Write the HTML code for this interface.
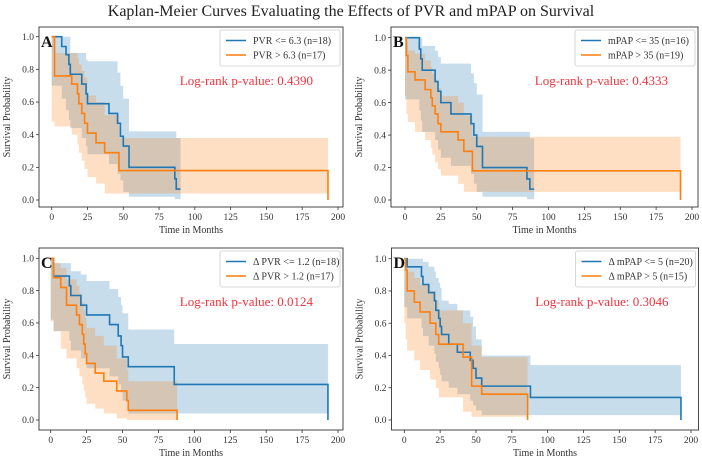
<!DOCTYPE html>
<html><head><meta charset="utf-8"><style>
body{margin:0;background:#fff;}
svg{display:block;font-family:"Liberation Serif",serif;}
</style></head><body>
<svg id="fig" width="702" height="461" viewBox="0 0 702 461">
<text x="351" y="16" text-anchor="middle" font-size="16" fill="#222">Kaplan-Meier Curves Evaluating the Effects of PVR and mPAP on Survival</text>
</svg>
<script>
const xTicks=[0,25,50,75,100,125,150,175,200];
const yTicks=[0,0.2,0.4,0.6,0.8,1.0];
const panelLabels=["A","B","C","D"];
const legendLabels=[["PVR <= 6.3 (n=18)","PVR > 6.3 (n=17)"],["mPAP <= 35 (n=16)","mPAP > 35 (n=19)"],["Δ PVR <= 1.2 (n=18)","Δ PVR > 1.2 (n=17)"],["Δ mPAP <= 5 (n=20)","Δ mPAP > 5 (n=15)"]];
const pValues=["0.4390","0.4333","0.0124","0.3046"];
// Panel A
const aBlueT=[0,7,10,12,13,21,24,25,40,46,48,50,54,86,87,90];
const aBlueS=[1,0.94,0.89,0.83,0.77,0.71,0.65,0.59,0.53,0.47,0.39,0.33,0.20,0.13,0.067,0.067];
const aBlueU=[1,1,1,1,0.9,0.9,0.86,0.85,0.85,0.78,0.7,0.62,0.42,0.42,0.38,0.38];
const aBlueL=[1,0.7,0.62,0.55,0.49,0.44,0.38,0.33,0.28,0.22,0.16,0.12,0.05,0.02,0.005,0.005];
const aOrT=[0,2,14,18,19,21,23,25,31,37,47,193];
const aOrS=[1,0.76,0.71,0.65,0.59,0.53,0.47,0.41,0.35,0.29,0.18,0.18];
const aOrU=[1,0.9,0.9,0.87,0.83,0.79,0.75,0.64,0.6,0.52,0.38,0.38];
const aOrL=[1,0.48,0.45,0.4,0.34,0.29,0.24,0.19,0.14,0.10,0.04,0.04];
// Panel B
const bBlueT=[0,10,11,12,21,23,25,32,46,48,50,54,85,87,90];
const bBlueS=[1,0.93,0.87,0.8,0.73,0.67,0.6,0.53,0.47,0.4,0.33,0.2,0.13,0.067,0.067];
const bBlueU=[1,1,1,0.95,0.92,0.88,0.84,0.84,0.78,0.72,0.65,0.42,0.42,0.38,0.38];
const bBlueL=[1,0.62,0.55,0.49,0.42,0.37,0.31,0.26,0.21,0.16,0.1,0.05,0.02,0.005,0.005];
const bOrT=[0,1,2,7,14,18,19,21,23,25,37,41,47,192];
const bOrS=[1,0.89,0.79,0.74,0.68,0.63,0.58,0.53,0.47,0.42,0.37,0.30,0.18,0.18];
const bOrU=[1,0.97,0.92,0.9,0.86,0.82,0.78,0.74,0.69,0.64,0.6,0.52,0.39,0.39];
const bOrL=[1,0.64,0.53,0.48,0.42,0.37,0.32,0.28,0.23,0.19,0.15,0.1,0.05,0.05];
// Panel C
const cBlueT=[0,2,13,14,21,25,41,47,49,50,54,86,193];
const cBlueS=[1,0.89,0.83,0.77,0.71,0.65,0.59,0.52,0.46,0.39,0.33,0.22,0.22];
const cBlueU=[1,0.97,0.97,0.92,0.9,0.86,0.81,0.76,0.71,0.66,0.56,0.47,0.47];
const cBlueL=[1,0.62,0.55,0.49,0.43,0.38,0.32,0.27,0.22,0.17,0.12,0.04,0.04];
const cOrT=[0,2,7,11,18,20,22,23,24,25,31,37,46,53,54,88];
const cOrS=[1,0.88,0.82,0.71,0.65,0.59,0.53,0.47,0.41,0.35,0.29,0.24,0.18,0.12,0.06,0.06];
const cOrU=[1,0.97,0.94,0.87,0.83,0.78,0.73,0.68,0.63,0.57,0.52,0.46,0.38,0.31,0.24,0.24];
const cOrL=[1,0.61,0.55,0.44,0.38,0.32,0.27,0.22,0.18,0.14,0.1,0.07,0.04,0.01,0,0];
// Panel D
const dBlueT=[0,2,12,13,17,21,22,24,25,26,31,37,46,48,50,54,88,193];
const dBlueS=[1,0.95,0.89,0.84,0.79,0.74,0.68,0.63,0.58,0.53,0.47,0.42,0.37,0.32,0.26,0.21,0.14,0.14];
const dBlueU=[1,1,1,0.98,0.95,0.92,0.88,0.85,0.82,0.74,0.72,0.68,0.64,0.58,0.5,0.4,0.34,0.34];
const dBlueL=[1,0.7,0.63,0.57,0.52,0.46,0.41,0.36,0.32,0.28,0.24,0.2,0.16,0.12,0.09,0.06,0.03,0.03];
const dOrT=[0,1,2,7,11,18,22,24,41,47,54,86];
const dOrS=[1,0.93,0.8,0.73,0.67,0.6,0.53,0.47,0.39,0.21,0.16,0.16];
const dOrU=[1,1,0.92,0.88,0.84,0.8,0.74,0.68,0.6,0.46,0.39,0.39];
const dOrL=[1,0.6,0.5,0.43,0.37,0.31,0.25,0.2,0.14,0.05,0.02,0.02];

const panels=[
 {x0:51.7,x1:338,y0:200,y1:36.7,fl:39,fr:343,ft:27,fb:207,s:[[aBlueT,aBlueS,aBlueU,aBlueL],[aOrT,aOrS,aOrU,aOrL]]},
 {x0:405,x1:692,y0:200,y1:37.7,fl:391,fr:698,ft:27,fb:207,s:[[bBlueT,bBlueS,bBlueU,bBlueL],[bOrT,bOrS,bOrU,bOrL]]},
 {x0:50.7,x1:338,y0:420,y1:258.3,fl:39,fr:343,ft:248,fb:430,s:[[cBlueT,cBlueS,cBlueU,cBlueL],[cOrT,cOrS,cOrU,cOrL]]},
 {x0:404.3,x1:691,y0:420,y1:258.7,fl:391.5,fr:698.5,ft:248,fb:430,s:[[dBlueT,dBlueS,dBlueU,dBlueL],[dOrT,dOrS,dOrU,dOrL]]}
];
const colors=["#1f77b4","#ff7f0e"];
const NS="http://www.w3.org/2000/svg";
const svg=document.getElementById('fig');
function mk(tag,attrs,parent){const e=document.createElementNS(NS,tag);for(const k in attrs)e.setAttribute(k,attrs[k]);(parent||svg).appendChild(e);return e;}
function stepPath(ts,vs,X,Y){let d="M"+X(ts[0])+","+Y(vs[0]);for(let i=1;i<ts.length;i++){d+=" H"+X(ts[i])+" V"+Y(vs[i]);}return d;}
function bandPath(ts,us,ls,X,Y){let d="M"+X(ts[0])+","+Y(us[0]);for(let i=1;i<ts.length;i++){d+=" H"+X(ts[i])+" V"+Y(us[i]);}
 for(let i=ts.length-1;i>=1;i--){d+=" V"+Y(ls[i])+" H"+X(ts[i-1]);}d+=" V"+Y(ls[0])+" Z";return d;}
panels.forEach((p,pi)=>{
 const X=v=>p.x0+(p.x1-p.x0)*v/200, Y=v=>p.y0+(p.y1-p.y0)*v;
 const g=mk('g',{});
 
 
 p.s.forEach((s,si)=>{
  const b=mk('path',{d:bandPath(s[0],s[2],s[3],X,Y),fill:colors[si],'fill-opacity':0.25,stroke:'none'},g);
  
  
 });
 p.s.forEach((s,si)=>{
  let d=stepPath(s[0],s[1],X,Y);
  if(!(si==0&&pi<2)) d+=" V"+Y(0);
  const l=mk('path',{d:d,fill:'none',stroke:colors[si],'stroke-width':1.6},g);
  
  
 });
 const fr=mk('rect',{x:p.fl,y:p.ft,width:p.fr-p.fl,height:p.fb-p.ft,fill:'none',stroke:'#333','stroke-width':0.9},g);
 
 
 xTicks.forEach(t=>{
  mk('line',{x1:X(t),x2:X(t),y1:p.fb,y2:p.fb+3,stroke:'#333','stroke-width':0.8},g);
  const tx=mk('text',{x:X(t),y:p.fb+13,'text-anchor':'middle','font-size':9.5,fill:'#333'},g);
  tx.textContent=t;
  
  
 });
 yTicks.forEach(t=>{
  mk('line',{x1:p.fl-3,x2:p.fl,y1:Y(t),y2:Y(t),stroke:'#333','stroke-width':0.8},g);
  const tx=mk('text',{x:p.fl-5,y:Y(t)+3.2,'text-anchor':'end','font-size':9.5,fill:'#333'},g);
  tx.textContent=t.toFixed(1);
  
  
 });
 const yl=mk('text',{x:0,y:0,transform:`translate(${p.fl-29},${(p.ft+p.fb)/2}) rotate(-90)`,'text-anchor':'middle','font-size':10,fill:'#333'},g);
 yl.textContent='Survival Probability';
 
 
 const xl=mk('text',{x:(p.fl+p.fr)/2,y:p.fb+26,'text-anchor':'middle','font-size':10,fill:'#333'},g);
 xl.textContent='Time in Months';
 
 
 const pl=mk('text',{x:p.fl+2,y:p.ft+20,'font-size':16,'font-weight':'bold',fill:'#111'},g);
 pl.textContent=panelLabels[pi];
 
 
 const lw=120, lx=p.fr-lw-3, ly=p.ft+3;
 const lg=mk('g',{},g);
 
 
 mk('rect',{x:lx,y:ly,width:lw,height:36,rx:2,fill:'#fff','fill-opacity':0.85,stroke:'#ccc','stroke-width':0.8},lg);
 legendLabels[pi].forEach((lab,i)=>{
  const yy=ly+10.5+i*14.5;
  mk('line',{x1:lx+6,x2:lx+26,y1:yy,y2:yy,stroke:colors[i],'stroke-width':1.6},lg);
  const t=mk('text',{x:lx+33,y:yy+3.5,'font-size':10,fill:'#333'},lg);
  t.textContent=lab;
  
  
 });
 const pv=mk('text',{x:p.fr-30,y:p.ft+58,'text-anchor':'end','font-size':13,fill:'#f0323c'},g);
 pv.textContent='Log-rank p-value: '+pValues[pi];
 
 
});
</script>
</body></html>
